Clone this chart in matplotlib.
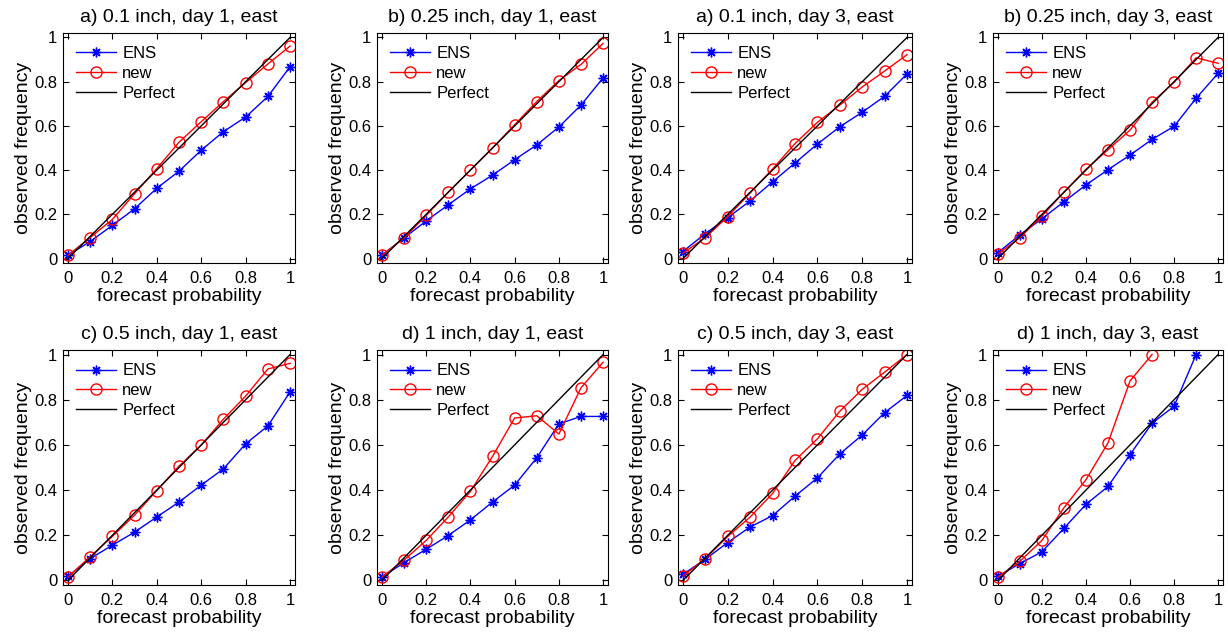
import numpy as np
import matplotlib
matplotlib.use("Agg")
import matplotlib.pyplot as plt

plt.rcParams['font.family'] = ['Liberation Sans', 'DejaVu Sans']

# forecast probability bins
prob = [0, 0.1, 0.2, 0.3, 0.4, 0.5, 0.6, 0.7, 0.8, 0.9, 1.0]

titles = [
    "a) 0.1 inch, day 1, east",
    "b) 0.25 inch, day 1, east",
    "a) 0.1 inch, day 3, east",
    "b) 0.25 inch, day 3, east",
    "c) 0.5 inch, day 1, east",
    "d) 1 inch, day 1, east",
    "c) 0.5 inch, day 3, east",
    "d) 1 inch, day 3, east",
]

# observed frequency (None = no data in that bin)
ens_a1 = [0.015, 0.077, 0.150, 0.225, 0.318, 0.395, 0.490, 0.574, 0.640, 0.733, 0.868]
new_a1 = [0.015, 0.095, 0.177, 0.293, 0.407, 0.526, 0.619, 0.710, 0.796, 0.880, 0.961]

ens_b1 = [0.015, 0.093, 0.170, 0.243, 0.315, 0.377, 0.447, 0.514, 0.595, 0.694, 0.817]
new_b1 = [0.015, 0.093, 0.195, 0.300, 0.400, 0.500, 0.605, 0.710, 0.805, 0.878, 0.973]

ens_a3 = [0.032, 0.113, 0.185, 0.261, 0.347, 0.432, 0.518, 0.596, 0.662, 0.734, 0.835]
new_a3 = [0.024, 0.095, 0.190, 0.297, 0.405, 0.520, 0.616, 0.694, 0.776, 0.848, 0.922]

ens_b3 = [0.027, 0.107, 0.180, 0.257, 0.333, 0.402, 0.468, 0.539, 0.598, 0.725, 0.838]
new_b3 = [0.020, 0.095, 0.192, 0.300, 0.404, 0.492, 0.581, 0.707, 0.797, 0.908, 0.883]

ens_c1 = [0.018, 0.097, 0.156, 0.214, 0.281, 0.347, 0.422, 0.494, 0.605, 0.684, 0.835]
new_c1 = [0.015, 0.105, 0.195, 0.289, 0.398, 0.506, 0.599, 0.714, 0.816, 0.936, 0.961]

ens_d1 = [0.015, 0.079, 0.138, 0.199, 0.268, 0.347, 0.422, 0.543, 0.693, 0.726, 0.726]
new_d1 = [0.015, 0.090, 0.177, 0.281, 0.394, 0.549, 0.719, 0.729, 0.648, 0.853, 0.966]

ens_c3 = [0.027, 0.094, 0.168, 0.237, 0.287, 0.373, 0.454, 0.560, 0.644, 0.743, 0.819]
new_c3 = [0.019, 0.097, 0.195, 0.281, 0.385, 0.531, 0.627, 0.749, 0.846, 0.922, 1.000]

ens_d3 = [0.018, 0.075, 0.127, 0.231, 0.337, 0.416, 0.557, 0.696, 0.771, 1.000, None]
new_d3 = [0.015, 0.085, 0.177, 0.322, 0.446, 0.609, 0.883, 1.000, None, None, None]

ens_all = [ens_a1, ens_b1, ens_a3, ens_b3, ens_c1, ens_d1, ens_c3, ens_d3]
new_all = [new_a1, new_b1, new_a3, new_b3, new_c1, new_d1, new_c3, new_d3]

W, H = 1228, 634
fig = plt.figure(figsize=(W / 100, H / 100), dpi=100)

# axes boxes in pixels (left, top, right, bottom)
lefts = [63, 377, 678, 993]
rights = [295, 608, 912, 1223]
tops = [33, 350]
bottoms = [263, 585]

ast = (8, 2, 0)  # matlab-like asterisk

for k in range(8):
    r, c = divmod(k, 4)
    x0, x1 = lefts[c], rights[c]
    y0, y1 = tops[r], bottoms[r]
    ax = fig.add_axes([x0 / W, 1 - y1 / H, (x1 - x0) / W, (y1 - y0) / H])

    ens = np.array([np.nan if v is None else v for v in ens_all[k]], dtype=float)
    new = np.array([np.nan if v is None else v for v in new_all[k]], dtype=float)

    ax.plot(prob, ens, color="blue", marker=ast, markersize=7, markeredgewidth=1.0,
            linewidth=1.0, label="ENS")
    ax.plot(prob, new, color="red", marker="o", markersize=8, markerfacecolor="none",
            markeredgewidth=1.0, linewidth=1.0, label="new")
    ax.plot([0, 1], [0, 1], color="black", linewidth=1.0, label="Perfect")

    ax.set_xlim(-0.022, 1.022)
    ax.set_ylim(-0.02, 1.02)
    ax.set_xticks([0, 0.2, 0.4, 0.6, 0.8, 1])
    ax.set_xticklabels(["0", "0.2", "0.4", "0.6", "0.8", "1"])
    ax.set_yticks([0, 0.2, 0.4, 0.6, 0.8, 1])
    ax.set_yticklabels(["0", "0.2", "0.4", "0.6", "0.8", "1"])
    ax.tick_params(direction="in", length=4, width=0.8, labelsize=12,
                   top=True, right=True)
    ax.tick_params(axis="x", pad=6)
    ax.tick_params(axis="y", pad=4)
    for s in ax.spines.values():
        s.set_linewidth(0.8)

    ax.set_title(titles[k], fontsize=14, pad=8)
    ax.set_xlabel("forecast probability", fontsize=14, labelpad=1)
    ax.set_ylabel("observed frequency", fontsize=14, labelpad=2)

    ax.legend(loc="upper left", frameon=False, fontsize=12, handlelength=2.4,
              handletextpad=0.35, labelspacing=0.28, borderaxespad=0.5,
              borderpad=0.3)

fig.savefig("out.png", dpi=100)
